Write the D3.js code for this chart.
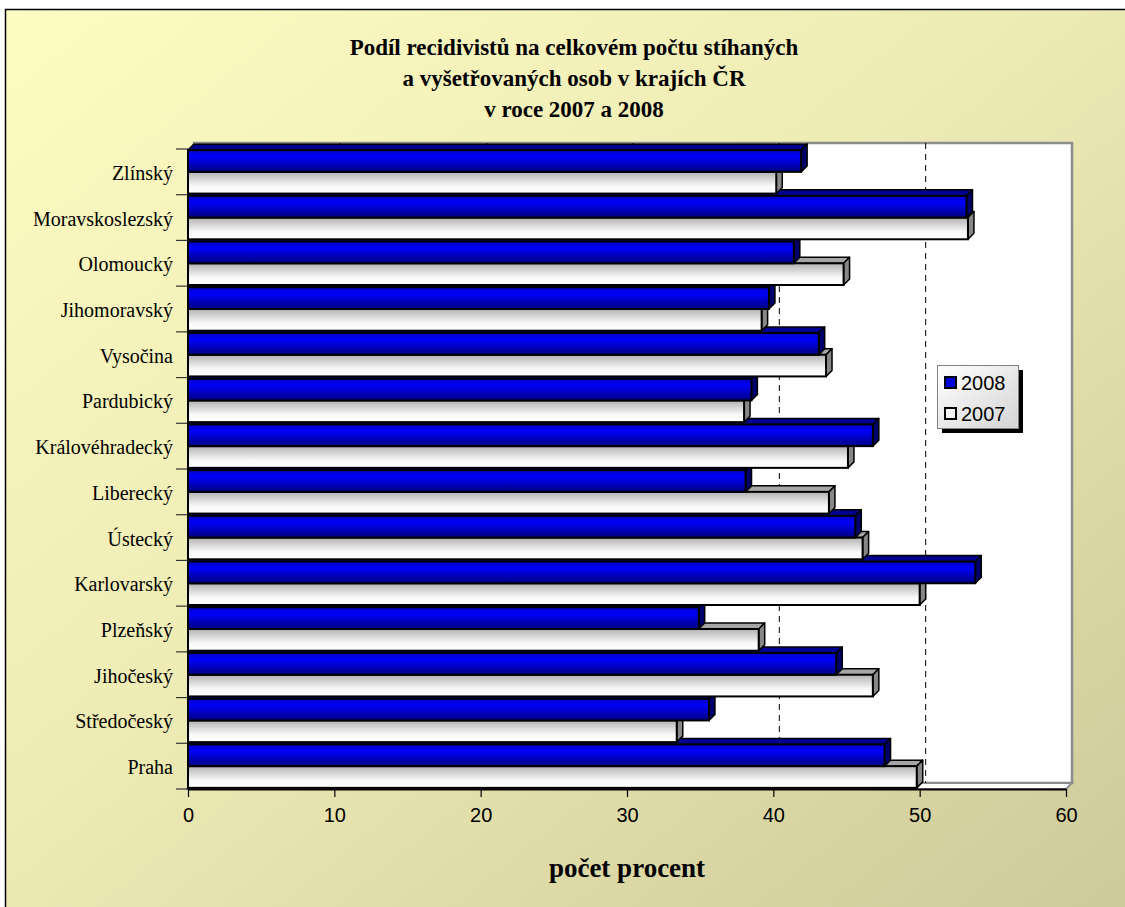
<!DOCTYPE html>
<meta charset="utf-8">
<style>
body { margin: 0; }
text { font-family: 'Liberation Serif', 'Times New Roman', serif; }
text.num { font-family: 'Liberation Sans', Arial, sans-serif; }
</style>
<body>
<script src="https://cdn.jsdelivr.net/npm/d3@7"></script>
<script>

// data
var categories = ["Zlínský", "Moravskoslezský", "Olomoucký", "Jihomoravský", "Vysočina",
  "Pardubický", "Královéhradecký", "Liberecký", "Ústecký", "Karlovarský",
  "Plzeňský", "Jihočeský", "Středočeský", "Praha"];
var v2008 = [41.9, 53.2, 41.4, 39.7, 43.1, 38.5, 46.8, 38.1, 45.6, 53.8, 34.9, 44.3, 35.6, 47.6];
var v2007 = [40.2, 53.3, 44.8, 39.2, 43.6, 38.0, 45.1, 43.8, 46.1, 50.0, 39.0, 46.8, 33.4, 49.8];
var seriesNames = ["2008", "2007"];
var xTicks = [0, 10, 20, 30, 40, 50, 60];
var titleLines = ["Podíl recidivistů na celkovém počtu stíhaných",
  "a vyšetřovaných osob v krajích ČR", "v roce 2007 a 2008"];
var xTitle = "počet procent";

var W = 1125, H = 907, depth = 6;
var pLeft = 188, pRight = 1066, pTop = 149, pBottom = 789;

var svg = d3.select("body").append("svg")
    .attr("width", W)
    .attr("height", H);

var defs = svg.append("defs");
var bg = defs.append("linearGradient").attr("id", "bg")
    .attr("x1", 0).attr("y1", 0).attr("x2", 1).attr("y2", 1);
bg.append("stop").attr("offset", "0%").attr("stop-color", "#fdfcc2");
bg.append("stop").attr("offset", "45%").attr("stop-color", "#eeebb5");
bg.append("stop").attr("offset", "100%").attr("stop-color", "#cdc999");

var gBlue = defs.append("linearGradient").attr("id", "gBlue")
    .attr("x1", 0).attr("y1", 0).attr("x2", 0).attr("y2", 1);
gBlue.append("stop").attr("offset", "0%").attr("stop-color", "#0000c8");
gBlue.append("stop").attr("offset", "30%").attr("stop-color", "#0000f8");
gBlue.append("stop").attr("offset", "100%").attr("stop-color", "#000082");

var gWhite = defs.append("linearGradient").attr("id", "gWhite")
    .attr("x1", 0).attr("y1", 0).attr("x2", 0).attr("y2", 1);
gWhite.append("stop").attr("offset", "0%").attr("stop-color", "#b2b2b2");
gWhite.append("stop").attr("offset", "65%").attr("stop-color", "#f8f8f8");
gWhite.append("stop").attr("offset", "100%").attr("stop-color", "#ffffff");

var gLeg = defs.append("linearGradient").attr("id", "gLeg")
    .attr("x1", 0).attr("y1", 0).attr("x2", 1).attr("y2", 1);
gLeg.append("stop").attr("offset", "0%").attr("stop-color", "#ffffff");
gLeg.append("stop").attr("offset", "100%").attr("stop-color", "#d4d4d4");

// chart background
svg.append("rect")
    .attr("x", 5.5).attr("y", 9.5)
    .attr("width", W).attr("height", H)
    .attr("fill", "url(#bg)")
    .attr("stroke", "#000").attr("stroke-width", 1.5);

// scales
var x = d3.scaleLinear().domain([0, 60]).range([pLeft, pRight]);
var y = d3.scaleBand().domain(categories).range([pTop, pBottom])
    .paddingInner(0.05).paddingOuter(0.025);
var ys = d3.scaleBand().domain(seriesNames).range([0, y.bandwidth()]);

// back wall and floor
svg.append("rect")
    .attr("x", pLeft + depth).attr("y", pTop - depth)
    .attr("width", pRight - pLeft).attr("height", pBottom - pTop)
    .attr("fill", "#fff").attr("stroke", "#8c8c8c").attr("stroke-width", 2.5);
svg.append("polygon")
    .attr("points", [[pLeft, pBottom], [pLeft + depth, pBottom - depth], [pRight + depth, pBottom - depth], [pRight, pBottom]].join(" "))
    .attr("fill", "#fff").attr("stroke", "#8c8c8c").attr("stroke-width", 2);

// gridlines on the wall
svg.append("g").selectAll("line")
    .data(xTicks.slice(1, -1))
    .join("line")
    .attr("x1", function(d) { return x(d) + depth; })
    .attr("x2", function(d) { return x(d) + depth; })
    .attr("y1", pTop - depth)
    .attr("y2", pBottom - depth)
    .attr("stroke", "#000").attr("stroke-width", 1)
    .attr("stroke-dasharray", "6,5");

// bars, drawn bottom to top so upper bars cover lower top faces
var rows = [];
for (var i = categories.length - 1; i >= 0; i--) {
  rows.push({cat: categories[i], s: "2007", v: v2007[i]});
  rows.push({cat: categories[i], s: "2008", v: v2008[i]});
}

var bars = svg.append("g").selectAll("g")
    .data(rows)
    .join("g");

function yt(d) { return y(d.cat) + ys(d.s); }
var bh = ys.bandwidth();

bars.append("polygon")
    .attr("points", function(d) {
      var x0 = x(0), x1 = x(d.v), t = yt(d);
      return [[x0, t], [x0 + depth, t - depth], [x1 + depth, t - depth], [x1, t]].join(" ");
    })
    .attr("fill", function(d) { return d.s === "2008" ? "#000090" : "#a6a6a6"; })
    .attr("stroke", "#000").attr("stroke-width", 1.5).attr("stroke-linejoin", "round");

bars.append("polygon")
    .attr("points", function(d) {
      var x1 = x(d.v), t = yt(d);
      return [[x1, t], [x1 + depth, t - depth], [x1 + depth, t + bh - depth], [x1, t + bh]].join(" ");
    })
    .attr("fill", function(d) { return d.s === "2008" ? "#00006a" : "#878787"; })
    .attr("stroke", "#000").attr("stroke-width", 1.5).attr("stroke-linejoin", "round");

bars.append("rect")
    .attr("x", x(0))
    .attr("y", yt)
    .attr("width", function(d) { return x(d.v) - x(0); })
    .attr("height", bh)
    .attr("fill", function(d) { return d.s === "2008" ? "url(#gBlue)" : "url(#gWhite)"; })
    .attr("stroke", "#000").attr("stroke-width", 2);

// x axis
var xAxis = svg.append("g")
    .attr("transform", "translate(0," + pBottom + ")")
    .call(d3.axisBottom(x).tickValues(xTicks).tickSize(8).tickPadding(11).tickSizeOuter(0));
xAxis.select(".domain").attr("stroke", "#000").attr("stroke-width", 2);
xAxis.selectAll(".tick line").attr("stroke", "#000").attr("stroke-width", 1.2);
xAxis.selectAll(".tick text").attr("class", "num")
    .attr("font-size", 20).attr("fill", "#000");

// y axis with ticks at band boundaries
var yAxis = svg.append("g")
    .attr("transform", "translate(" + pLeft + ",0)")
    .call(d3.axisLeft(y).tickSize(0).tickPadding(15));
yAxis.select(".domain").remove();
yAxis.selectAll(".tick text").attr("font-size", 20).attr("fill", "#000")
    .attr("dy", "0.4em");

var bounds = categories.map(function(c) { return y(c) - y.step() * y.paddingInner() / 2; });
bounds.push(pBottom);
svg.append("g").selectAll("line")
    .data(bounds)
    .join("line")
    .attr("x1", pLeft - 12).attr("x2", pLeft)
    .attr("y1", function(d) { return d; }).attr("y2", function(d) { return d; })
    .attr("stroke", "#333").attr("stroke-width", 1.2);
svg.append("line")
    .attr("x1", pLeft).attr("x2", pLeft)
    .attr("y1", pTop).attr("y2", pBottom)
    .attr("stroke", "#000").attr("stroke-width", 2);

// title
svg.append("text")
    .attr("x", 574).attr("y", 55)
    .attr("text-anchor", "middle")
    .attr("font-size", 23).attr("font-weight", "bold")
    .selectAll("tspan")
    .data(titleLines)
    .join("tspan")
    .attr("x", 574)
    .attr("dy", function(d, i) { return i ? 31 : 0; })
    .text(function(d) { return d; });

// x axis title
svg.append("text")
    .attr("x", 627).attr("y", 877)
    .attr("text-anchor", "middle")
    .attr("font-size", 27).attr("font-weight", "bold")
    .text(xTitle);

// legend
var leg = svg.append("g").attr("transform", "translate(937,365)");
leg.append("rect").attr("x", 5).attr("y", 5).attr("width", 81).attr("height", 63).attr("fill", "#000");
leg.append("rect").attr("x", 0.5).attr("y", 0.5).attr("width", 81).attr("height", 63)
    .attr("fill", "url(#gLeg)").attr("stroke", "#808080").attr("stroke-width", 1);
var li = leg.selectAll(".li")
    .data(seriesNames)
    .join("g")
    .attr("class", "li")
    .attr("transform", function(d, i) { return "translate(8," + (12 + i * 31) + ")"; });
li.append("rect")
    .attr("width", 11).attr("height", 11)
    .attr("fill", function(d) { return d === "2008" ? "#0000d8" : "#f4f4f4"; })
    .attr("stroke", "#000").attr("stroke-width", 2);
li.append("text")
    .attr("class", "num")
    .attr("x", 16).attr("y", 13)
    .attr("font-size", 20)
    .text(function(d) { return d; });

</script>
</body>
